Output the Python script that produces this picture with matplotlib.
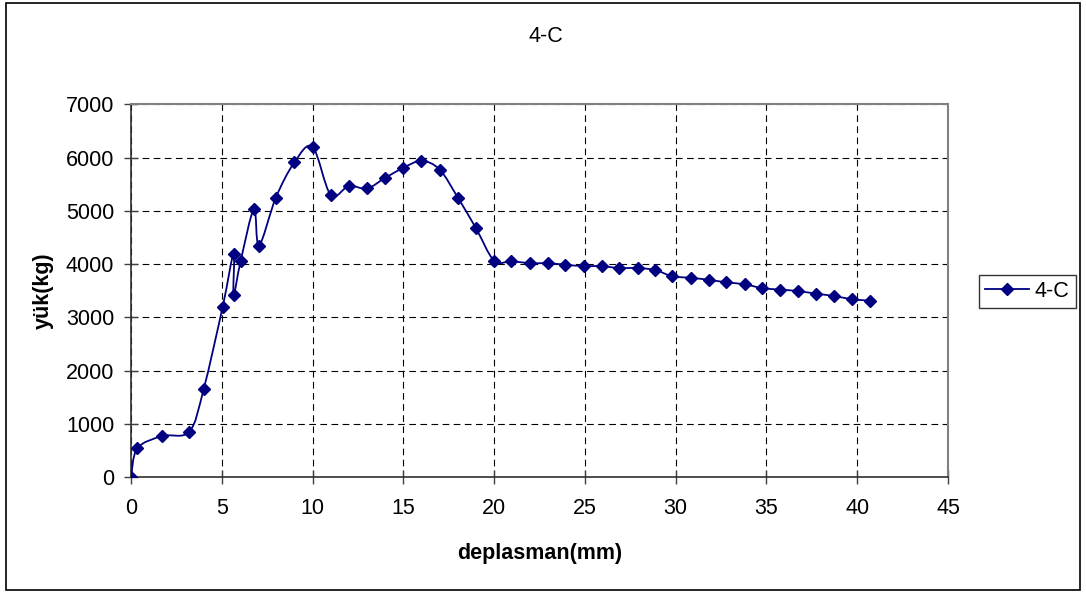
import matplotlib
matplotlib.use("Agg")
import matplotlib.pyplot as plt
from matplotlib.path import Path
from matplotlib.patches import PathPatch, Rectangle
from matplotlib.lines import Line2D

plt.rcParams["font.family"] = ["Liberation Sans", "DejaVu Sans"]

# ── Data ──────────────────────────────────────────────────────────────────────
deplasman = [0.0, 0.35, 1.72, 3.21, 4.0, 5.05, 5.65, 5.65, 6.04, 6.77, 7.05,
             7.98, 9.0, 10.0, 11.0, 12.0, 13.0, 14.0, 15.0, 16.0, 17.0, 18.0,
             19.0, 20.0, 20.95, 22.0, 22.97, 23.92, 24.96, 25.92, 26.89, 27.93,
             28.88, 29.8, 30.82, 31.81, 32.78, 33.81, 34.78, 35.73, 36.76,
             37.75, 38.74, 39.73, 40.68]
yuk = [0, 544, 775, 856, 1650, 3200, 4200, 3430, 4060, 5030, 4350,
       5250, 5910, 6200, 5300, 5468, 5420, 5620, 5808, 5938, 5776, 5250,
       4675, 4066, 4055, 4018, 4018, 3988, 3963, 3963, 3927, 3927,
       3890, 3774, 3744, 3707, 3659, 3622, 3549, 3524, 3494,
       3445, 3402, 3341, 3317]
series_name = "4-C"
x_ticks = [0, 5, 10, 15, 20, 25, 30, 35, 40, 45]
y_ticks = [0, 1000, 2000, 3000, 4000, 5000, 6000, 7000]

NAVY = "#000080"
FS = 15.5


def smooth_path(xs, ys):
    """Excel-like smoothed line: cubic Bezier segments through every point."""
    pts = list(zip(xs, ys))
    n = len(pts)
    verts = [pts[0]]
    codes = [Path.MOVETO]
    for i in range(n - 1):
        p0 = pts[i - 1] if i > 0 else pts[i]
        p1 = pts[i]
        p2 = pts[i + 1]
        p3 = pts[i + 2] if i + 2 < n else pts[i + 1]
        c1 = (p1[0] + (p2[0] - p0[0]) / 6, p1[1] + (p2[1] - p0[1]) / 6)
        c2 = (p2[0] - (p3[0] - p1[0]) / 6, p2[1] - (p3[1] - p1[1]) / 6)
        verts += [c1, c2, p2]
        codes += [Path.CURVE4] * 3
    return Path(verts, codes)


fig = plt.figure(figsize=(10.86, 5.93), dpi=100)
ax = fig.add_axes([131 / 1086, 1 - 477.3 / 593, 817 / 1086, 373 / 593])

ax.add_patch(PathPatch(smooth_path(deplasman, yuk), facecolor="none",
                       edgecolor=NAVY, linewidth=1.3, zorder=3))
ax.plot(deplasman, yuk, linestyle="none", marker="D", markersize=6.5,
        color=NAVY, zorder=4)

ax.set_xlim(0, 45)
ax.set_ylim(0, 7000)
ax.set_xticks(x_ticks)
ax.set_yticks(y_ticks)
ax.grid(True, color="black", linestyle=(0, (6, 4)), linewidth=0.8)
ax.set_axisbelow(True)
ax.tick_params(direction="inout", length=10, width=1, labelsize=FS,
               color="#404040")
ax.tick_params(axis="x", pad=10)
ax.tick_params(axis="y", pad=7)

for side in ("left", "bottom"):
    ax.spines[side].set_color("#303030")
    ax.spines[side].set_linewidth(1.2)
for side in ("top", "right"):
    ax.spines[side].set_color("#808080")
    ax.spines[side].set_linewidth(1.5)

ax.set_xlabel("deplasman(mm)", fontsize=FS, fontweight="bold", labelpad=17)
ax.set_ylabel("yük(kg)", fontsize=FS, fontweight="bold", labelpad=9)

fig.text(546 / 1086, 1 - 36 / 593, "4-C", fontsize=FS, ha="center", va="center")

handle = Line2D([], [], color=NAVY, marker="D", markersize=6.5, linewidth=1.3)
leg = fig.legend([handle], [series_name], loc="center left",
                 bbox_to_anchor=(979 / 1086, 1 - 291.5 / 593), fontsize=FS,
                 frameon=True, fancybox=False, edgecolor="black",
                 handlelength=2.0, borderpad=0.3, handletextpad=0.3,
                 borderaxespad=0)
leg.get_frame().set_linewidth(1.0)

# outer chart border
fig.patches.append(Rectangle((6 / 1086, 3 / 593), 1074 / 1086, 587 / 593,
                             transform=fig.transFigure, fill=False,
                             edgecolor="black", linewidth=1.2))

fig.savefig("out.png", dpi=100)
